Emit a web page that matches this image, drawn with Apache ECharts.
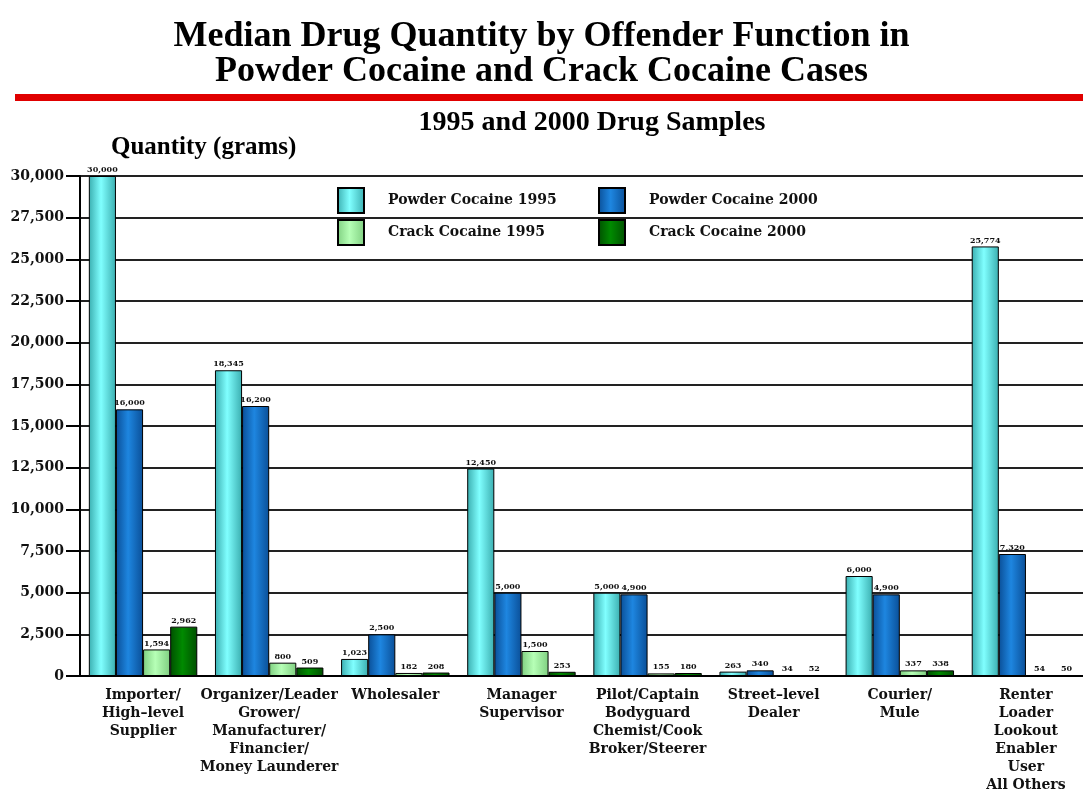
<!DOCTYPE html>
<html>
<head>
<meta charset="utf-8">
<script src="https://cdn.jsdelivr.net/npm/echarts@6/dist/echarts.min.js"></script>
<style>
  html, body { margin: 0; padding: 0; background: #fff; }
  #chart { width: 1083px; height: 794px; }
</style>
</head>
<body>
<div id="chart"></div>
<script>
var categories = [
    'Importer/\nHigh\u2013level\nSupplier',
    'Organizer/Leader\nGrower/\nManufacturer/\nFinancier/\nMoney Launderer',
    'Wholesaler',
    'Manager\nSupervisor',
    'Pilot/Captain\nBodyguard\nChemist/Cook\nBroker/Steerer',
    'Street\u2013level\nDealer',
    'Courier/\nMule',
    'Renter\nLoader\nLookout\nEnabler\nUser\nAll Others'
];
var powder1995 = [30000, 18345, 1023, 12450, 5000, 263, 6000, 25774];
var powder2000 = [16000, 16200, 2500, 5000, 4900, 340, 4900, 7320];
var crack1995 = [1594, 800, 182, 1500, 155, 34, 337, 54];
var crack2000 = [2962, 509, 208, 253, 180, 52, 338, 50];

var serif = '"DejaVu Serif", serif';
var times = '"Liberation Serif", "Times New Roman", serif';

var chart = echarts.init(document.getElementById('chart'));

function grad(edge, mid) {
    return new echarts.graphic.LinearGradient(0, 0, 1, 0, [
        { offset: 0, color: edge },
        { offset: 0.45, color: mid },
        { offset: 1, color: edge }
    ]);
}

function barSeries(name, data, edge, mid, legendColor) {
    return {
        name: name,
        type: 'bar',
        data: data,
        barGap: 0,
        barCategoryGap: '14%',
        color: legendColor,
        itemStyle: {
            color: grad(edge, mid),
            borderColor: '#000',
            borderWidth: 1
        },
        label: {
            show: true,
            position: 'top',
            distance: 2,
            fontFamily: serif,
            fontWeight: 'bold',
            fontSize: 8,
            color: '#111',
            formatter: function (p) { return p.value.toLocaleString('en-US'); }
        }
    };
}

function legendFor(names) {
    return {
        data: names,
        orient: 'vertical',
        top: 187,
        padding: 0,
        itemWidth: 26,
        itemHeight: 25,
        itemGap: 5,
        icon: 'rect',
        itemStyle: { borderColor: '#000', borderWidth: 2 },
        textStyle: { fontFamily: serif, fontWeight: 'bold', fontSize: 14, color: '#111', padding: [0, 0, 0, 19] }
    };
}

var legendLeft = legendFor(['Powder Cocaine 1995', 'Crack Cocaine 1995']);
legendLeft.left = 337;
var legendRight = legendFor(['Powder Cocaine 2000', 'Crack Cocaine 2000']);
legendRight.left = 598;

var option = {
    animation: false,
    backgroundColor: '#fff',
    title: [
        {
            text: 'Median Drug Quantity by Offender Function in\nPowder Cocaine and Crack Cocaine Cases',
            left: 'center',
            top: 14,
            textStyle: { fontFamily: times, fontWeight: 'bold', fontSize: 36, lineHeight: 35, color: '#000' }
        },
        {
            text: '1995 and 2000 Drug Samples',
            left: 587,
            textAlign: 'center',
            top: 104,
            textStyle: { fontFamily: times, fontWeight: 'bold', fontSize: 28, color: '#000' }
        },
        {
            text: 'Quantity (grams)',
            left: 106,
            top: 130,
            textStyle: { fontFamily: times, fontWeight: 'bold', fontSize: 25, color: '#000' }
        }
    ],
    graphic: [
        {
            type: 'rect',
            shape: { x: 15, y: 94, width: 1068, height: 7 },
            style: { fill: '#e00000' }
        }
    ],
    legend: [legendLeft, legendRight],
    grid: {
        left: 80,
        width: 1009,
        top: 176,
        height: 500,
        containLabel: false,
        outerBoundsMode: 'none'
    },
    xAxis: {
        type: 'category',
        data: categories,
        axisLine: { lineStyle: { color: '#000', width: 2 } },
        axisTick: { show: false },
        axisLabel: {
            interval: 0,
            margin: 10,
            fontFamily: serif,
            fontWeight: 'bold',
            fontSize: 14,
            lineHeight: 18,
            color: '#111'
        }
    },
    yAxis: {
        type: 'value',
        min: 0,
        max: 30000,
        interval: 2500,
        axisLine: { show: true, lineStyle: { color: '#000', width: 2 } },
        axisTick: { show: true, length: 14, lineStyle: { color: '#000', width: 2 } },
        splitLine: { lineStyle: { color: '#222', width: 2 } },
        axisLabel: {
            margin: 16,
            fontFamily: serif,
            fontWeight: 'bold',
            fontSize: 14,
            color: '#111',
            formatter: function (v) { return v.toLocaleString('en-US'); }
        }
    },
    series: [
        barSeries('Powder Cocaine 1995', powder1995, '#3aaeb0', '#80ffff', '#66ffff'),
        barSeries('Powder Cocaine 2000', powder2000, '#0a4f98', '#1e86e0', '#1a78d8'),
        barSeries('Crack Cocaine 1995', crack1995, '#7fcf80', '#b6ffb6', '#aaffaa'),
        barSeries('Crack Cocaine 2000', crack2000, '#004f00', '#008a00', '#007000')
    ]
};

chart.setOption(option);
</script>
</body>
</html>
